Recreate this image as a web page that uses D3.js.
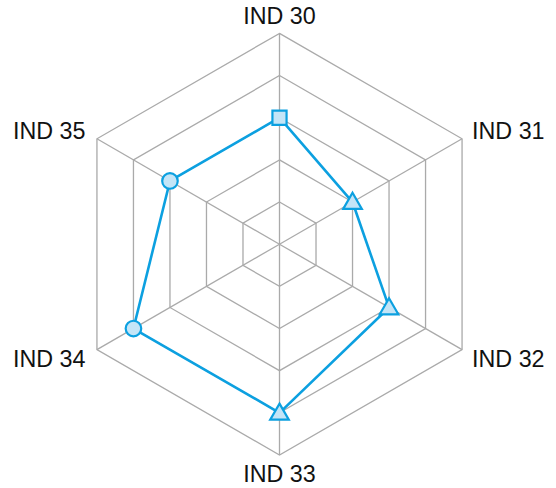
<!DOCTYPE html>
<html>
<head>
<meta charset="utf-8">
<script src="https://cdn.jsdelivr.net/npm/d3@7"></script>
<style>
html,body{margin:0;padding:0;background:#fff;}
svg{display:block;}
</style>
</head>
<body>
<svg id="chart" width="556" height="488"></svg>
<script>
const categories = ["IND 30", "IND 31", "IND 32", "IND 33", "IND 34", "IND 35"];
const values = [3, 2, 3, 4, 4, 3];
const markers = ["square", "triangle", "triangle", "triangle", "circle", "circle"];
const ringLevels = [1, 2, 3, 4, 5];
const maxValue = 5;

const svg = d3.select("#chart");
const cx = 279.5, cy = 244.2, R = 210.8;
const lineColor = "#0ca0e0";
const fillColor = "#c4e5f7";
const gridColor = "#aaaaaa";

const r = d3.scaleLinear().domain([0, maxValue]).range([0, R]);
const angle = d3.scaleLinear().domain([0, categories.length]).range([0, 2 * Math.PI]);
const pt = (i, v) => {
  const a = angle(i);
  return [cx + r(v) * Math.sin(a), cy - r(v) * Math.cos(a)];
};

const g = svg.append("g");

// rings
ringLevels.forEach(l => {
  g.append("path")
    .attr("d", d3.line()(categories.map((c, i) => pt(i, l))) + "Z")
    .attr("fill", "none")
    .attr("stroke", gridColor)
    .attr("stroke-width", 1.3);
});
// spokes
categories.forEach((c, i) => {
  const [x, y] = pt(i, maxValue);
  g.append("line")
    .attr("x1", cx).attr("y1", cy).attr("x2", x).attr("y2", y)
    .attr("stroke", gridColor).attr("stroke-width", 1.3);
});

// labels
const font = "'Liberation Sans', Arial, sans-serif";
categories.forEach((c, i) => {
  const [x, y] = pt(i, maxValue);
  const a = angle(i);
  const s = Math.sin(a), co = Math.cos(a);
  let tx = x, ty = y, anchor = "middle", baseline = "alphabetic";
  if (Math.abs(s) < 1e-6) {
    if (co > 0) { ty = y - 9; baseline = "alphabetic"; }
    else { ty = y + 10; baseline = "hanging"; }
  } else {
    anchor = s > 0 ? "start" : "end";
    tx = x + (s > 0 ? 10 : -11.5);
    if (co > 0) { ty = y; baseline = "alphabetic"; }
    else { ty = y; baseline = "hanging"; }
  }
  const t = g.append("text")
    .attr("x", tx)
    .attr("text-anchor", anchor)
    .attr("font-family", font)
    .attr("font-size", "23.3px")
    .attr("fill", "#111")
    .text(c);
  if (baseline === "hanging") t.attr("y", ty + 17);
  else t.attr("y", ty);
});

// series line
const pts = values.map((v, i) => pt(i, v));
g.append("path")
  .attr("d", d3.line()(pts) + "Z")
  .attr("fill", "none")
  .attr("stroke", lineColor)
  .attr("stroke-width", 2.6)
  .attr("stroke-linejoin", "round");

// markers
const symMap = { square: d3.symbolSquare, triangle: d3.symbolTriangle, circle: d3.symbolCircle };
const sizeMap = { square: 200, triangle: 150, circle: 190 };
const offMap = { square: 0, triangle: 1.5, circle: 0 };
pts.forEach((p, i) => {
  const m = markers[i];
  g.append("path")
    .attr("d", d3.symbol().type(symMap[m]).size(sizeMap[m])())
    .attr("transform", `translate(${p[0]},${p[1] + offMap[m]})`)
    .attr("fill", fillColor)
    .attr("stroke", lineColor)
    .attr("stroke-width", 2.2);
});
</script>
</body>
</html>
